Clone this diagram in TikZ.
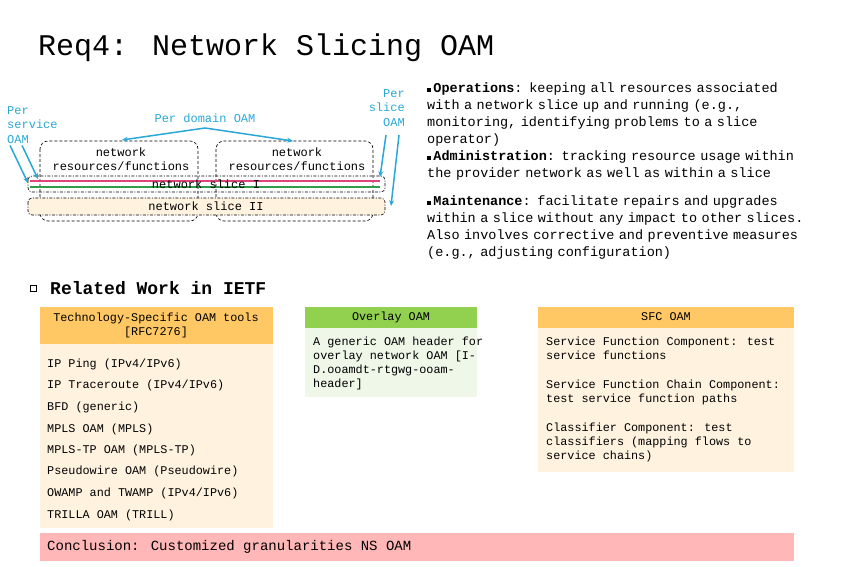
\documentclass[tikz,border=0pt]{standalone}
\usepackage{fontspec}
\setmainfont{Liberation Mono}
\usetikzlibrary{arrows.meta}
\definecolor{cy}{HTML}{2AA7D6}
\definecolor{orh}{HTML}{FFC864}
\definecolor{orb}{HTML}{FFF3E0}
\definecolor{grh}{HTML}{92D050}
\definecolor{grb}{HTML}{EEF7E8}
\definecolor{pk}{HTML}{FFB7B7}
\definecolor{pkl}{HTML}{E0457A}
\definecolor{gl}{HTML}{2E9E4A}
\newcommand{\bsq}{\rule[1pt]{4pt}{4pt}}
\begin{document}
\begin{tikzpicture}[x=1pt,y=-1pt,
  txt/.style={anchor=west,inner sep=0,font=\fontsize{13.5}{17}\selectfont},
  sm/.style={anchor=west,inner sep=0,font=\fontsize{11.8}{14}\selectfont},
  cyt/.style={inner sep=0,text=cy,font=\fontsize{12}{14.5}\selectfont},
  arr/.style={cy,line width=1.5pt,-{Stealth[length=6pt,width=5pt]}},
  dbox/.style={draw,dash pattern=on 3pt off 2pt,rounded corners=8pt,line width=0.6pt},
  sbox/.style={draw,dash pattern=on 3pt off 1.5pt on 1pt off 1.5pt,rounded corners=4pt,line width=0.6pt}]
\useasboundingbox (0,0) rectangle (851,567);
\node[anchor=west,inner sep=0,font=\fontsize{30}{34}\selectfont] (title) at (38,48) {Req4: Network Slicing OAM};
% left diagram
\draw[dbox] (40,141) rectangle (198,221);
\draw[dbox] (216,141) rectangle (373,221);
\node[inner sep=0,font=\fontsize{12}{14.5}\selectfont,align=center] (r1) at (121,159) {network\\resources/functions};
\node[inner sep=0,font=\fontsize{12}{14.5}\selectfont,align=center] (r2) at (297,159) {network\\resources/functions};
\draw[sbox,fill=orb] (28,198) rectangle (385,215);
\node[inner sep=0,font=\fontsize{12}{14}\selectfont] (s2) at (206,206) {network slice II};
\draw[sbox] (28,176) rectangle (385,192);
\draw[pkl,line width=2.5pt] (30,181) -- (380,181);
\draw[gl,line width=2.5pt] (30,187) -- (380,187);
\node[inner sep=0,font=\fontsize{12}{14}\selectfont] (s1) at (206,184) {network slice I};
\coordinate (s1a) at (28,183); \coordinate (s1b) at (38,179);
\coordinate (s1c) at (380,177); \coordinate (s2c) at (391,206);
\node[cyt,anchor=north west,align=left] (ps) at (7,106) {Per\\service\\OAM};
\node[cyt] (pd) at (205,118) {Per domain OAM};
\node[cyt,anchor=north east,align=right] (psl) at (405,89) {Per\\slice\\OAM};
\draw[arr] (205,128) -- (122,140);
\draw[arr] (205,128) -- (293,141);
\draw[arr] (ps.south west) ++(3,2) -- (s1a);
\draw[arr] (ps.south west) ++(15,2) -- (s1b);
\draw[arr] (386,135) -- (s1c);
\draw[arr] (399,135) -- (s2c);
% right text
\node[txt,anchor=north west,align=left,text width=420pt] (ops) at (427,83) {%
\bsq\,\textbf{Operations}: keeping all resources associated\\with a network slice up and running (e.g.,\\monitoring, identifying problems to a slice\\operator)\\
\bsq\,\textbf{Administration}: tracking resource usage within\\the provider network as well as within a slice};
\node[txt,anchor=north west,align=left,text width=420pt] (mnt) at (427,196) {%
\bsq\,\textbf{Maintenance}: facilitate repairs and upgrades\\within a slice without any impact to other slices.\\Also involves corrective and preventive measures\\(e.g., adjusting configuration)};
% related work
\draw[line width=0.8pt] (30,285) rectangle (36,291);
\node[anchor=west,inner sep=0,font=\fontsize{18}{20}\selectfont\bfseries] (rw) at (50,288) {Related Work in IETF};
\fill[orh] (40,307) rectangle (273,344);
\fill[orb] (40,344) rectangle (273,528);
\node[inner sep=0,align=center,font=\fontsize{11.8}{14}\selectfont] (h1) at (156,325) {Technology-Specific OAM tools\\{[RFC7276]}};
\foreach \y/\t [count=\i] in {364/{IP Ping (IPv4/IPv6)},385/{IP Traceroute (IPv4/IPv6)},407/{BFD (generic)},429/{MPLS OAM (MPLS)},450/{MPLS-TP OAM (MPLS-TP)},471/{Pseudowire OAM (Pseudowire)},493/{OWAMP and TWAMP (IPv4/IPv6)},515/{TRILLA OAM (TRILL)}}
  \node[sm] (t\i) at (47,\y) {\t};
\fill[grh] (305,307) rectangle (477,328);
\fill[grb] (305,328) rectangle (477,397);
\node[inner sep=0,font=\fontsize{11.8}{14}\selectfont] (h2) at (391,317) {Overlay OAM};
\node[sm,anchor=north west,align=left] (o1) at (313,337) {A generic OAM header for\\overlay network OAM [I-\\D.ooamdt-rtgwg-ooam-\\header]};
\fill[orh] (538,307) rectangle (794,328);
\fill[orb] (538,328) rectangle (794,472);
\node[inner sep=0,font=\fontsize{11.8}{14}\selectfont] (h3) at (666,317) {SFC OAM};
\node[sm,anchor=north west,align=left] (f1) at (546,337) {Service Function Component: test\\service functions};
\node[sm,anchor=north west,align=left] (f2) at (546,380) {Service Function Chain Component:\\test service function paths};
\node[sm,anchor=north west,align=left] (f3) at (546,423) {Classifier Component: test\\classifiers (mapping flows to\\service chains)};
\fill[pk] (40,533) rectangle (794,561);
\node[anchor=west,inner sep=0,font=\fontsize{14}{16}\selectfont] (cc) at (47,547) {Conclusion: Customized granularities NS OAM};
\end{tikzpicture}
\end{document}
